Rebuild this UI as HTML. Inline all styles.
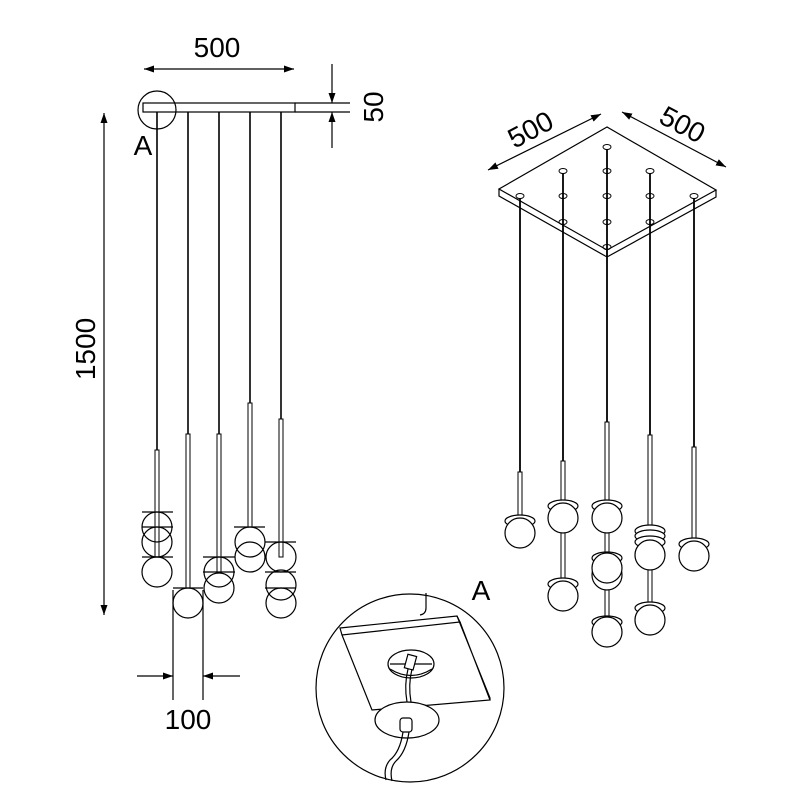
<!DOCTYPE html>
<html><head><meta charset="utf-8"><style>html,body{margin:0;padding:0;background:#fff}svg{display:block}</style></head>
<body>
<svg width="800" height="800" viewBox="0 0 800 800" xmlns="http://www.w3.org/2000/svg" font-family="Liberation Sans, DejaVu Sans, sans-serif">
<defs>
<marker id="ar" viewBox="0 0 10 10" refX="10" refY="5" markerWidth="10" markerHeight="10" markerUnits="userSpaceOnUse" orient="auto-start-reverse"><path d="M0,1.5 L10,5 L0,8.5 z" fill="#000"/></marker>
</defs>
<g stroke="#000" stroke-width="1.2" fill="none">
<!-- LEFT VIEW dims -->
<line x1="144" y1="69" x2="294" y2="69" marker-start="url(#ar)" marker-end="url(#ar)"/>
<rect x="143" y="103" width="152" height="9" fill="#fff"/>
<line x1="295" y1="103" x2="350" y2="103"/>
<line x1="295" y1="112" x2="350" y2="112"/>
<line x1="332" y1="64" x2="332" y2="103" marker-end="url(#ar)"/>
<line x1="332" y1="148" x2="332" y2="112" marker-end="url(#ar)"/>
<circle cx="157" cy="110" r="19"/>
<line x1="104" y1="615" x2="104" y2="113" marker-start="url(#ar)" marker-end="url(#ar)"/>
<line x1="173" y1="590" x2="173" y2="700"/>
<line x1="203" y1="590" x2="203" y2="700"/>
<line x1="137" y1="676" x2="173" y2="676" marker-end="url(#ar)"/>
<line x1="240" y1="676" x2="203" y2="676" marker-end="url(#ar)"/>
<!-- rods -->
<g stroke-width="1.6">
<line x1="157" y1="112" x2="157" y2="450"/>
<line x1="188" y1="112" x2="188" y2="434"/>
<line x1="219" y1="112" x2="219" y2="434"/>
<line x1="250" y1="112" x2="250" y2="403"/>
<line x1="281" y1="112" x2="281" y2="419"/>
</g>
<g stroke-width="1" fill="#fff">
<rect x="155" y="450" width="4" height="107"/>
<rect x="186" y="434" width="4" height="154"/>
<rect x="217" y="434" width="4" height="139"/>
<rect x="248" y="403" width="4" height="124"/>
<rect x="279" y="419" width="4" height="138"/>
</g>
<g fill="none">
<circle cx="157" cy="527" r="15"/><circle cx="157" cy="542" r="15"/><circle cx="157" cy="572" r="15"/>
<line x1="142" y1="512" x2="173" y2="512"/><line x1="142" y1="527" x2="173" y2="527"/><line x1="142" y1="557" x2="173" y2="557"/>
<circle cx="188" cy="603" r="15"/><line x1="173" y1="588" x2="203" y2="588"/>
<circle cx="219" cy="572" r="15"/><circle cx="219" cy="588" r="15"/>
<line x1="203" y1="557" x2="235" y2="557"/><line x1="203" y1="572" x2="235" y2="572"/>
<circle cx="250" cy="542" r="15"/><circle cx="250" cy="557" r="15"/><line x1="234" y1="527" x2="265" y2="527"/>
<circle cx="281" cy="557" r="15"/><circle cx="281" cy="585" r="15"/><circle cx="281" cy="603" r="15"/>
<line x1="265" y1="542" x2="296" y2="542"/><line x1="265" y1="572" x2="296" y2="572"/><line x1="265" y1="588" x2="296" y2="588"/>
</g>

<!-- RIGHT VIEW -->
<line x1="488" y1="170" x2="601" y2="114" marker-start="url(#ar)" marker-end="url(#ar)"/>
<line x1="622" y1="112" x2="726" y2="167" marker-start="url(#ar)" marker-end="url(#ar)"/>
<path d="M607,127 L499,189 L607,250 L716,190 Z M499,189 L499,196 L607,257 L716,197 L716,190 M607,250 L607,257" fill="#fff"/>
<g stroke-width="1">
<ellipse cx="520" cy="196" rx="4" ry="2.5"/>
<ellipse cx="563" cy="171" rx="4" ry="2.5"/><ellipse cx="563" cy="196" rx="4" ry="2.5"/><ellipse cx="563" cy="222" rx="4" ry="2.5"/>
<ellipse cx="607" cy="147" rx="4" ry="2.5"/><ellipse cx="607" cy="171" rx="4" ry="2.5"/><ellipse cx="607" cy="196" rx="4" ry="2.5"/><ellipse cx="607" cy="222" rx="4" ry="2.5"/><ellipse cx="607" cy="247" rx="4" ry="2.5"/>
<ellipse cx="650" cy="171" rx="4" ry="2.5"/><ellipse cx="650" cy="196" rx="4" ry="2.5"/><ellipse cx="650" cy="222" rx="4" ry="2.5"/>
<ellipse cx="694" cy="196" rx="4" ry="2.5"/>
</g>
<g stroke-width="1.8">
<line x1="520" y1="198" x2="520" y2="472"/>
<line x1="563" y1="173" x2="563" y2="461"/>
<line x1="607" y1="149" x2="607" y2="422"/>
<line x1="650" y1="173" x2="650" y2="435"/>
<line x1="694" y1="198" x2="694" y2="447"/>
</g>
<g stroke-width="1" fill="#fff">
<rect x="518" y="472" width="4" height="46"/>
<rect x="561" y="461" width="4" height="124"/>
<rect x="605" y="422" width="4" height="195"/>
<rect x="648" y="435" width="4" height="170"/>
<rect x="692" y="447" width="4" height="96"/>
</g>
<g fill="#fff">
<ellipse cx="520" cy="521" rx="15" ry="6"/><circle cx="520" cy="533" r="15"/>
<ellipse cx="563" cy="506" rx="15" ry="6"/><circle cx="563" cy="518" r="15"/>
<ellipse cx="563" cy="584" rx="15" ry="6"/><circle cx="563" cy="596" r="15"/>
<ellipse cx="607" cy="506" rx="15" ry="6"/><circle cx="607" cy="518" r="15"/>
<ellipse cx="607" cy="558" rx="15" ry="6"/><circle cx="607" cy="575" r="15"/><circle cx="607" cy="568" r="15"/>
<ellipse cx="607" cy="622" rx="15" ry="6"/><circle cx="607" cy="632" r="15"/>
<ellipse cx="650" cy="531" rx="15" ry="6"/><ellipse cx="650" cy="536" rx="15" ry="6"/><ellipse cx="650" cy="542" rx="15" ry="6"/><circle cx="650" cy="555" r="15"/>
<ellipse cx="650" cy="608" rx="15" ry="6"/><circle cx="650" cy="620" r="15"/>
<ellipse cx="694" cy="544" rx="15" ry="6"/><circle cx="694" cy="556" r="15"/>
</g>

<!-- DETAIL A -->
<circle cx="410" cy="688" r="94"/>
<path d="M426,593 L426,608 Q426,614 420,615"/>
<path d="M340,628 L457,616 L460,622 L342,635 Z" fill="#fff"/>
<path d="M342,635 L372,710 L490,700 L460,622 M457,616 L490,698 L490,700"/>
<ellipse cx="411" cy="664" rx="23" ry="14"/>
<path d="M390,669 Q411,682 432,669"/>
<line x1="390" y1="664" x2="432" y2="664"/>
<rect x="406" y="655" width="9" height="14" transform="rotate(15 410 662)" fill="#fff"/>
<path d="M408,669 Q404,685 407,702 M412,669 Q408,685 411,702"/>
<ellipse cx="407" cy="720" rx="32" ry="18" fill="#fff"/>
<rect x="400" y="718" width="12" height="14" rx="3" fill="#fff"/>
<path d="M403,732 Q400,752 390,760 Q383,768 386,780 M409,732 Q406,752 396,761 Q389,768 392,781"/>
</g>

<g fill="#000" font-size="28">
<text x="217" y="57" text-anchor="middle">500</text>
<text x="143" y="155" text-anchor="middle">A</text>
<text transform="translate(383 107) rotate(-90)" text-anchor="middle">50</text>
<text transform="translate(95 349) rotate(-90)" text-anchor="middle">1500</text>
<text x="188" y="729" text-anchor="middle">100</text>
<text transform="translate(535 138) rotate(-28)" text-anchor="middle">500</text>
<text transform="translate(678 133) rotate(28)" text-anchor="middle">500</text>
<text x="481" y="600" text-anchor="middle">A</text>
</g>
</svg>
</body></html>
